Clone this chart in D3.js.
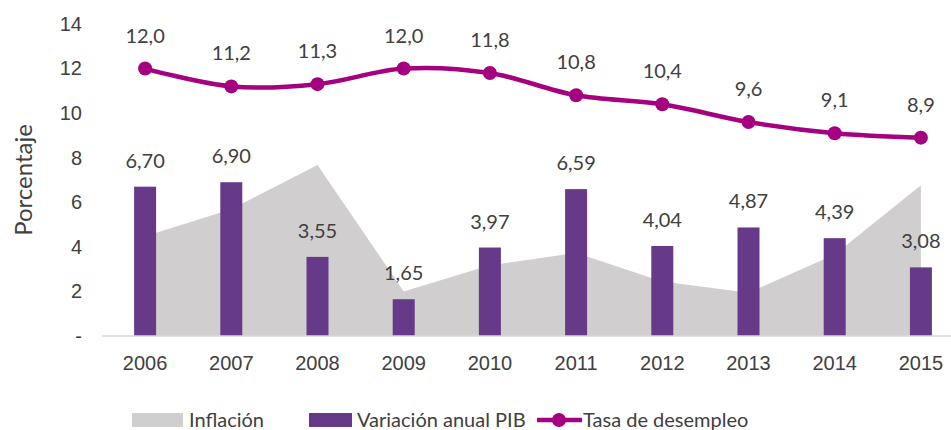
<!DOCTYPE html>
<meta charset="utf-8">
<head>
<style>
body { margin: 0; background: #fff; }
svg { display: block; font-family: Lato, "Open Sans", sans-serif; }
.tick text, .lbl { fill: #404040; font-size: 20px; }
.leg { fill: #404040; font-size: 20px; }
.ytitle { fill: #404040; font-size: 24px; }
</style>
<script src="https://cdn.jsdelivr.net/npm/d3@7"></script>
</head>
<body>
<svg id="chart" width="951" height="430"></svg>
<script>
// data
var years = ["2006", "2007", "2008", "2009", "2010", "2011", "2012", "2013", "2014", "2015"];
var inflacion = [4.48, 5.69, 7.67, 2.00, 3.17, 3.73, 2.44, 1.94, 3.66, 6.77];
var pib = [6.70, 6.90, 3.55, 1.65, 3.97, 6.59, 4.04, 4.87, 4.39, 3.08];
var desempleo = [12.0, 11.2, 11.3, 12.0, 11.8, 10.8, 10.4, 9.6, 9.1, 8.9];
var yTicks = [0, 2, 4, 6, 8, 10, 12, 14];

var svg = d3.select("#chart");
var fmt1 = function(v){ return d3.format(".1f")(v).replace(".", ","); };
var fmt2 = function(v){ return d3.format(".2f")(v).replace(".", ","); };

var x = d3.scaleBand().domain(years).range([102, 964]);
var y = d3.scaleLinear().domain([0, 14]).range([336, 24]);
var cx = function(d){ return x(d) + x.bandwidth() / 2; };

// inflation area
var area = d3.area()
    .x(function(d, i){ return cx(years[i]); })
    .y0(y(0))
    .y1(function(d){ return y(d); });
svg.append("path")
    .datum(inflacion)
    .attr("d", area)
    .attr("fill", "#d0cece");

// GDP bars
var barW = 22;
svg.selectAll(".bar").data(pib).enter().append("rect")
    .attr("class", "bar")
    .attr("x", function(d, i){ return cx(years[i]) - barW / 2; })
    .attr("y", function(d){ return y(d); })
    .attr("width", barW)
    .attr("height", function(d){ return y(0) - y(d); })
    .attr("fill", "#663a88");

svg.selectAll(".pibl").data(pib).enter().append("text")
    .attr("class", "lbl")
    .attr("x", function(d, i){ return cx(years[i]); })
    .attr("y", function(d){ return y(d) - 19; })
    .attr("text-anchor", "middle")
    .text(fmt2);

// x axis
svg.append("line")
    .attr("x1", 102).attr("x2", 951)
    .attr("y1", y(0)).attr("y2", y(0))
    .attr("stroke", "#d9d9d9").attr("stroke-width", 1.5);

var xa = svg.append("g")
    .attr("transform", "translate(0," + y(0) + ")")
    .call(d3.axisBottom(x).tickSize(0).tickPadding(20));
xa.select(".domain").remove();
xa.selectAll("text").attr("dy", "0.71em");

// y axis
var ya = svg.append("g")
    .attr("transform", "translate(82,0)")
    .call(d3.axisLeft(y).tickValues(yTicks).tickSize(0).tickPadding(0)
      .tickFormat(function(d){ return d === 0 ? "-" : d; }));
ya.select(".domain").remove();

svg.append("text")
    .attr("class", "ytitle")
    .attr("transform", "translate(32,180) rotate(-90)")
    .attr("text-anchor", "middle")
    .text("Porcentaje");

// unemployment line
var line = d3.line()
    .x(function(d, i){ return cx(years[i]); })
    .y(function(d){ return y(d); })
    .curve(d3.curveCatmullRom.alpha(0.5));
svg.append("path")
    .datum(desempleo)
    .attr("d", line)
    .attr("fill", "none")
    .attr("stroke", "#a5007f")
    .attr("stroke-width", 4.5);

svg.selectAll(".dot").data(desempleo).enter().append("circle")
    .attr("cx", function(d, i){ return cx(years[i]); })
    .attr("cy", function(d){ return y(d); })
    .attr("r", 7)
    .attr("fill", "#a5007f");

svg.selectAll(".desl").data(desempleo).enter().append("text")
    .attr("class", "lbl")
    .attr("x", function(d, i){ return cx(years[i]); })
    .attr("y", function(d){ return y(d) - 26; })
    .attr("text-anchor", "middle")
    .text(fmt1);

// legend
var lg = svg.append("g").attr("transform", "translate(0,420)");
lg.append("rect").attr("x", 132).attr("y", -7).attr("width", 51).attr("height", 14).attr("fill", "#d0cece");
lg.append("text").attr("class", "leg").attr("x", 189).attr("y", 0).attr("dy", "0.35em").text("Inflación");
lg.append("rect").attr("x", 309).attr("y", -7).attr("width", 43).attr("height", 14).attr("fill", "#663a88");
lg.append("text").attr("class", "leg").attr("x", 357).attr("y", 0).attr("dy", "0.35em").text("Variación anual PIB");
lg.append("line").attr("x1", 537).attr("x2", 582).attr("y1", 0).attr("y2", 0)
    .attr("stroke", "#a5007f").attr("stroke-width", 4.5);
lg.append("circle").attr("cx", 559).attr("cy", 0).attr("r", 7).attr("fill", "#a5007f");
lg.append("text").attr("class", "leg").attr("x", 583).attr("y", 0).attr("dy", "0.35em").text("Tasa de desempleo");
</script>
</body>
